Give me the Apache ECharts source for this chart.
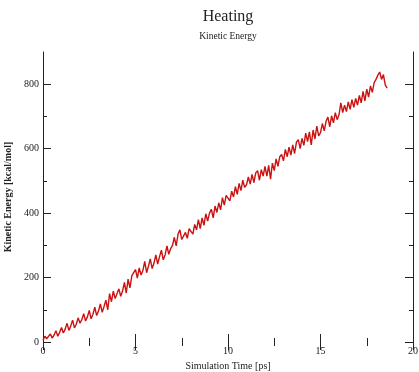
<!DOCTYPE html>
<html>
<head>
<meta charset="utf-8">
<script src="https://cdn.jsdelivr.net/npm/echarts@6/dist/echarts.min.js"></script>
<style>
  html, body { margin: 0; padding: 0; background: #fff; }
  #chart { width: 419px; height: 372px; }
</style>
</head>
<body>
<div id="chart"></div>
<script>
// simulation time [ps]
const time = [
  0.0, 0.1, 0.2, 0.3, 0.4, 0.5, 0.6, 0.7, 0.8, 0.9,
  1.0, 1.1, 1.2, 1.3, 1.4, 1.5, 1.6, 1.7, 1.8, 1.9,
  2.0, 2.1, 2.2, 2.3, 2.4, 2.5, 2.6, 2.7, 2.8, 2.9,
  3.0, 3.1, 3.2, 3.3, 3.4, 3.5, 3.6, 3.7, 3.8, 3.9,
  4.0, 4.1, 4.2, 4.3, 4.4, 4.5, 4.6, 4.7, 4.8, 4.9,
  5.0, 5.1, 5.2, 5.3, 5.4, 5.5, 5.6, 5.7, 5.8, 5.9,
  6.0, 6.1, 6.2, 6.3, 6.4, 6.5, 6.6, 6.7, 6.8, 6.9,
  7.0, 7.1, 7.2, 7.3, 7.4, 7.5, 7.6, 7.7, 7.8, 7.9,
  8.0, 8.1, 8.2, 8.3, 8.4, 8.5, 8.6, 8.7, 8.8, 8.9,
  9.0, 9.1, 9.2, 9.3, 9.4, 9.5, 9.6, 9.7, 9.8, 9.9,
  10.0, 10.1, 10.2, 10.3, 10.4, 10.5, 10.6, 10.7, 10.8, 10.9,
  11.0, 11.1, 11.2, 11.3, 11.4, 11.5, 11.6, 11.7, 11.8, 11.9,
  12.0, 12.1, 12.2, 12.3, 12.4, 12.5, 12.6, 12.7, 12.8, 12.9,
  13.0, 13.1, 13.2, 13.3, 13.4, 13.5, 13.6, 13.7, 13.8, 13.9,
  14.0, 14.1, 14.2, 14.3, 14.4, 14.5, 14.6, 14.7, 14.8, 14.9,
  15.0, 15.1, 15.2, 15.3, 15.4, 15.5, 15.6, 15.7, 15.8, 15.9,
  16.0, 16.1, 16.2, 16.3, 16.4, 16.5, 16.6, 16.7, 16.8, 16.9,
  17.0, 17.1, 17.2, 17.3, 17.4, 17.5, 17.6, 17.7, 17.8, 17.9,
  18.0, 18.1, 18.2, 18.3, 18.4, 18.5, 18.6
];

// kinetic energy [kcal/mol]
const kineticEnergy = [
  5, 18, 10, 14, 25, 12, 22, 35, 18, 30,
  45, 28, 40, 58, 36, 50, 68, 44, 55, 75,
  58, 70, 88, 65, 78, 98, 72, 86, 108, 82,
  96, 118, 92, 110, 130, 100, 150, 125, 158, 135,
  140, 165, 142, 158, 185, 152, 195, 168, 205, 215,
  225, 198, 230, 208, 222, 250, 215, 235, 258, 228,
  245, 270, 242, 265, 285, 255, 270, 298, 272, 290,
  300, 325, 298, 335, 348, 318, 312, 340, 322, 352,
  358, 335, 365, 348, 380, 352, 385, 362, 398, 375,
  400, 412, 385, 422, 402, 432, 410, 448, 425, 455,
  460, 438, 468, 450, 482, 458, 492, 470, 502, 480,
  488, 512, 490, 520, 495, 525, 532, 502, 535, 515,
  545, 515, 548, 505, 555, 532, 568, 545, 575, 582,
  562, 598, 575, 605, 580, 612, 585, 620, 628, 600,
  632, 610, 648, 622, 652, 612, 658, 630, 670, 640,
  650, 678, 655, 685, 698, 668, 702, 680, 712, 690,
  705, 742, 712, 735, 715, 745, 722, 752, 728, 756,
  735, 765, 742, 778, 748, 785, 760, 795, 775, 805,
  815, 828, 838, 815, 830, 798, 788
];

const yMajorTicks = [0, 200, 400, 600, 800];
const yMinorTicks = [100, 300, 500, 700];

const chart = echarts.init(document.getElementById('chart'));

const font = 'Liberation Serif';
const ink = '#222';

// shared y-axis look; the four y axes only differ in side and tick set
const yBase = {
  type: 'value',
  min: 0,
  max: 900,
  splitLine: { show: false },
  axisLine: { show: true, lineStyle: { color: ink, width: 1 } }
};

const option = {
  animation: false,
  title: {
    text: 'Heating',
    subtext: 'Kinetic Energy',
    left: 228,
    top: 9,
    padding: 0,
    textAlign: 'center',
    itemGap: 6,
    textStyle: { fontFamily: font, fontSize: 16, fontWeight: 'normal', color: ink },
    subtextStyle: { fontFamily: font, fontSize: 9.5, color: ink }
  },
  grid: { left: 43, right: 6, top: 52, bottom: 30, outerBoundsMode: 'none', containLabel: false },
  xAxis: [
    {
      type: 'value',
      position: 'bottom',
      min: 0,
      max: 20,
      interval: 5,
      name: 'Simulation Time [ps]',
      nameLocation: 'middle',
      nameGap: 17,
      nameTextStyle: { fontFamily: font, fontSize: 10, color: ink },
      axisLine: { show: false },
      axisTick: { show: true, inside: true, length: 8, lineStyle: { color: ink } },
      minorTick: { show: true, splitNumber: 2, length: 4, lineStyle: { color: ink } },
      axisLabel: { fontFamily: font, fontSize: 10, color: ink, margin: 4 },
      splitLine: { show: false }
    },
    {
      type: 'value',
      position: 'top',
      min: 0,
      max: 20,
      interval: 5,
      axisLine: { show: false },
      axisTick: { show: true, inside: true, length: 8, lineStyle: { color: ink } },
      minorTick: { show: true, splitNumber: 2, length: 4, lineStyle: { color: ink } },
      axisLabel: { show: false },
      splitLine: { show: false }
    }
  ],
  yAxis: [
    Object.assign({}, yBase, {
      position: 'left',
      name: 'Kinetic Energy [kcal/mol]',
      nameLocation: 'middle',
      nameGap: 22,
      nameTextStyle: { fontFamily: font, fontSize: 10, fontWeight: 'bold', color: ink },
      axisTick: { show: true, inside: true, length: 8, customValues: yMajorTicks, lineStyle: { color: ink } },
      axisLabel: { fontFamily: font, fontSize: 10, color: ink, margin: 4, customValues: yMajorTicks }
    }),
    Object.assign({}, yBase, {
      position: 'left',
      axisLine: { show: false },
      axisTick: { show: true, inside: true, length: 4, customValues: yMinorTicks, lineStyle: { color: ink } },
      axisLabel: { show: false }
    }),
    Object.assign({}, yBase, {
      position: 'right',
      axisTick: { show: true, inside: true, length: 8, customValues: yMajorTicks, lineStyle: { color: ink } },
      axisLabel: { show: false }
    }),
    Object.assign({}, yBase, {
      position: 'right',
      axisLine: { show: false },
      axisTick: { show: true, inside: true, length: 4, customValues: yMinorTicks, lineStyle: { color: ink } },
      axisLabel: { show: false }
    })
  ],
  series: [
    {
      type: 'line',
      xAxisIndex: 0,
      yAxisIndex: 0,
      data: time.map((t, i) => [t, kineticEnergy[i]]),
      showSymbol: false,
      symbol: 'none',
      lineStyle: { color: '#cc1111', width: 1.4 }
    }
  ]
};

chart.setOption(option);
</script>
</body>
</html>
